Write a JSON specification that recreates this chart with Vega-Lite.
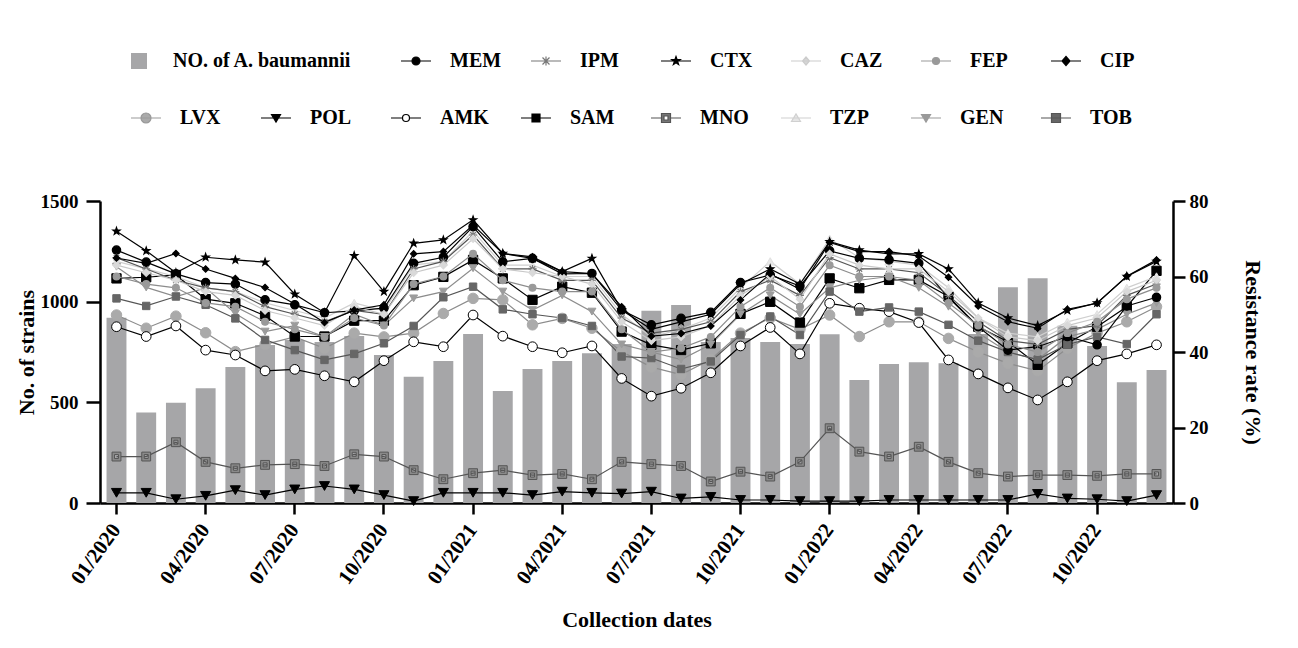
{
  "$schema": "https://vega.github.io/schema/vega-lite/v6.json",
  "width": 1073,
  "height": 302,
  "autosize": {"type": "none"},
  "padding": {"left": 100, "top": 201, "right": 125, "bottom": 145},
  "background": "white",
  "datasets": {
    "bars": [
      {"m": "01/2020", "n": 920}, {"m": "02/2020", "n": 450}, {"m": "03/2020", "n": 498}, {"m": "04/2020", "n": 570},
      {"m": "05/2020", "n": 675}, {"m": "06/2020", "n": 785}, {"m": "07/2020", "n": 810}, {"m": "08/2020", "n": 800},
      {"m": "09/2020", "n": 830}, {"m": "10/2020", "n": 735}, {"m": "11/2020", "n": 627}, {"m": "12/2020", "n": 705},
      {"m": "01/2021", "n": 840}, {"m": "02/2021", "n": 556}, {"m": "03/2021", "n": 666}, {"m": "04/2021", "n": 705},
      {"m": "05/2021", "n": 744}, {"m": "06/2021", "n": 790}, {"m": "07/2021", "n": 955}, {"m": "08/2021", "n": 983},
      {"m": "09/2021", "n": 800}, {"m": "10/2021", "n": 820}, {"m": "11/2021", "n": 800}, {"m": "12/2021", "n": 790},
      {"m": "01/2022", "n": 838}, {"m": "02/2022", "n": 611}, {"m": "03/2022", "n": 690}, {"m": "04/2022", "n": 699},
      {"m": "05/2022", "n": 694}, {"m": "06/2022", "n": 840}, {"m": "07/2022", "n": 1071}, {"m": "08/2022", "n": 1116},
      {"m": "09/2022", "n": 880}, {"m": "10/2022", "n": 780}, {"m": "11/2022", "n": 600}, {"m": "12/2022", "n": 661}
    ],
    "rates": [
      {"m":"01/2020","d":"MEM","v":67.0},{"m":"02/2020","d":"MEM","v":63.8},{"m":"03/2020","d":"MEM","v":60.7},{"m":"04/2020","d":"MEM","v":58.4},{"m":"05/2020","d":"MEM","v":58.0},{"m":"06/2020","d":"MEM","v":53.8},{"m":"07/2020","d":"MEM","v":52.5},{"m":"08/2020","d":"MEM","v":50.4},{"m":"09/2020","d":"MEM","v":50.9},{"m":"10/2020","d":"MEM","v":51.6},{"m":"11/2020","d":"MEM","v":63.5},{"m":"12/2020","d":"MEM","v":65.1},
      {"m":"01/2021","d":"MEM","v":73.2},{"m":"02/2021","d":"MEM","v":63.9},{"m":"03/2021","d":"MEM","v":64.8},{"m":"04/2021","d":"MEM","v":60.7},{"m":"05/2021","d":"MEM","v":60.8},{"m":"06/2021","d":"MEM","v":51.1},{"m":"07/2021","d":"MEM","v":47.2},{"m":"08/2021","d":"MEM","v":48.9},{"m":"09/2021","d":"MEM","v":50.5},{"m":"10/2021","d":"MEM","v":58.4},{"m":"11/2021","d":"MEM","v":60.4},{"m":"12/2021","d":"MEM","v":57.5},
      {"m":"01/2022","d":"MEM","v":66.8},{"m":"02/2022","d":"MEM","v":64.8},{"m":"03/2022","d":"MEM","v":64.4},{"m":"04/2022","d":"MEM","v":63.5},{"m":"05/2022","d":"MEM","v":54.4},{"m":"06/2022","d":"MEM","v":46.7},{"m":"07/2022","d":"MEM","v":40.5},{"m":"08/2022","d":"MEM","v":41.4},{"m":"09/2022","d":"MEM","v":44.1},{"m":"10/2022","d":"MEM","v":41.9},{"m":"11/2022","d":"MEM","v":52.2},{"m":"12/2022","d":"MEM","v":54.5},

      {"m":"01/2020","d":"IPM","v":65},{"m":"02/2020","d":"IPM","v":62},{"m":"03/2020","d":"IPM","v":59},{"m":"04/2020","d":"IPM","v":57},{"m":"05/2020","d":"IPM","v":56},{"m":"06/2020","d":"IPM","v":52},{"m":"07/2020","d":"IPM","v":50},{"m":"08/2020","d":"IPM","v":48},{"m":"09/2020","d":"IPM","v":51},{"m":"10/2020","d":"IPM","v":50},{"m":"11/2020","d":"IPM","v":62},{"m":"12/2020","d":"IPM","v":64},
      {"m":"01/2021","d":"IPM","v":71},{"m":"02/2021","d":"IPM","v":62},{"m":"03/2021","d":"IPM","v":62},{"m":"04/2021","d":"IPM","v":59},{"m":"05/2021","d":"IPM","v":59},{"m":"06/2021","d":"IPM","v":49},{"m":"07/2021","d":"IPM","v":45},{"m":"08/2021","d":"IPM","v":46},{"m":"09/2021","d":"IPM","v":48},{"m":"10/2021","d":"IPM","v":56},{"m":"11/2021","d":"IPM","v":59},{"m":"12/2021","d":"IPM","v":55},
      {"m":"01/2022","d":"IPM","v":65},{"m":"02/2022","d":"IPM","v":62},{"m":"03/2022","d":"IPM","v":62},{"m":"04/2022","d":"IPM","v":61},{"m":"05/2022","d":"IPM","v":55},{"m":"06/2022","d":"IPM","v":48},{"m":"07/2022","d":"IPM","v":43},{"m":"08/2022","d":"IPM","v":42},{"m":"09/2022","d":"IPM","v":46},{"m":"10/2022","d":"IPM","v":47},{"m":"11/2022","d":"IPM","v":55},{"m":"12/2022","d":"IPM","v":58},

      {"m":"01/2020","d":"CTX","v":72.0},{"m":"02/2020","d":"CTX","v":66.8},{"m":"03/2020","d":"CTX","v":61.0},{"m":"04/2020","d":"CTX","v":65.1},{"m":"05/2020","d":"CTX","v":64.4},{"m":"06/2020","d":"CTX","v":63.8},{"m":"07/2020","d":"CTX","v":55.3},{"m":"08/2020","d":"CTX","v":50.4},{"m":"09/2020","d":"CTX","v":65.5},{"m":"10/2020","d":"CTX","v":56.0},{"m":"11/2020","d":"CTX","v":68.8},{"m":"12/2020","d":"CTX","v":69.7},
      {"m":"01/2021","d":"CTX","v":75.0},{"m":"02/2021","d":"CTX","v":66.1},{"m":"03/2021","d":"CTX","v":64.8},{"m":"04/2021","d":"CTX","v":61.3},{"m":"05/2021","d":"CTX","v":64.8},{"m":"06/2021","d":"CTX","v":51.1},{"m":"07/2021","d":"CTX","v":46.0},{"m":"08/2021","d":"CTX","v":48.0},{"m":"09/2021","d":"CTX","v":50.0},{"m":"10/2021","d":"CTX","v":58.0},{"m":"11/2021","d":"CTX","v":62.0},{"m":"12/2021","d":"CTX","v":58.0},
      {"m":"01/2022","d":"CTX","v":69.2},{"m":"02/2022","d":"CTX","v":67.0},{"m":"03/2022","d":"CTX","v":66.0},{"m":"04/2022","d":"CTX","v":66.0},{"m":"05/2022","d":"CTX","v":62.0},{"m":"06/2022","d":"CTX","v":53.0},{"m":"07/2022","d":"CTX","v":49.0},{"m":"08/2022","d":"CTX","v":47.0},{"m":"09/2022","d":"CTX","v":51.0},{"m":"10/2022","d":"CTX","v":53.0},{"m":"11/2022","d":"CTX","v":60.0},{"m":"12/2022","d":"CTX","v":64.0},

      {"m":"01/2020","d":"CAZ","v":63},{"m":"02/2020","d":"CAZ","v":61},{"m":"03/2020","d":"CAZ","v":59},{"m":"04/2020","d":"CAZ","v":56},{"m":"05/2020","d":"CAZ","v":55},{"m":"06/2020","d":"CAZ","v":51},{"m":"07/2020","d":"CAZ","v":49},{"m":"08/2020","d":"CAZ","v":47},{"m":"09/2020","d":"CAZ","v":52},{"m":"10/2020","d":"CAZ","v":50},{"m":"11/2020","d":"CAZ","v":61},{"m":"12/2020","d":"CAZ","v":63},
      {"m":"01/2021","d":"CAZ","v":70},{"m":"02/2021","d":"CAZ","v":62},{"m":"03/2021","d":"CAZ","v":61},{"m":"04/2021","d":"CAZ","v":60},{"m":"05/2021","d":"CAZ","v":58},{"m":"06/2021","d":"CAZ","v":48},{"m":"07/2021","d":"CAZ","v":43},{"m":"08/2021","d":"CAZ","v":44},{"m":"09/2021","d":"CAZ","v":47},{"m":"10/2021","d":"CAZ","v":55},{"m":"11/2021","d":"CAZ","v":60},{"m":"12/2021","d":"CAZ","v":54},
      {"m":"01/2022","d":"CAZ","v":66},{"m":"02/2022","d":"CAZ","v":63},{"m":"03/2022","d":"CAZ","v":62},{"m":"04/2022","d":"CAZ","v":62},{"m":"05/2022","d":"CAZ","v":56},{"m":"06/2022","d":"CAZ","v":49},{"m":"07/2022","d":"CAZ","v":44},{"m":"08/2022","d":"CAZ","v":43},{"m":"09/2022","d":"CAZ","v":47},{"m":"10/2022","d":"CAZ","v":49},{"m":"11/2022","d":"CAZ","v":56},{"m":"12/2022","d":"CAZ","v":59},

      {"m":"01/2020","d":"FEP","v":60},{"m":"02/2020","d":"FEP","v":58},{"m":"03/2020","d":"FEP","v":57},{"m":"04/2020","d":"FEP","v":53},{"m":"05/2020","d":"FEP","v":52},{"m":"06/2020","d":"FEP","v":48},{"m":"07/2020","d":"FEP","v":46},{"m":"08/2020","d":"FEP","v":44},{"m":"09/2020","d":"FEP","v":49},{"m":"10/2020","d":"FEP","v":47},{"m":"11/2020","d":"FEP","v":58},{"m":"12/2020","d":"FEP","v":60},
      {"m":"01/2021","d":"FEP","v":66},{"m":"02/2021","d":"FEP","v":59},{"m":"03/2021","d":"FEP","v":57},{"m":"04/2021","d":"FEP","v":56},{"m":"05/2021","d":"FEP","v":56},{"m":"06/2021","d":"FEP","v":46},{"m":"07/2021","d":"FEP","v":40},{"m":"08/2021","d":"FEP","v":41},{"m":"09/2021","d":"FEP","v":44},{"m":"10/2021","d":"FEP","v":52},{"m":"11/2021","d":"FEP","v":57},{"m":"12/2021","d":"FEP","v":52},
      {"m":"01/2022","d":"FEP","v":63},{"m":"02/2022","d":"FEP","v":60},{"m":"03/2022","d":"FEP","v":60},{"m":"04/2022","d":"FEP","v":59},{"m":"05/2022","d":"FEP","v":53},{"m":"06/2022","d":"FEP","v":47},{"m":"07/2022","d":"FEP","v":42},{"m":"08/2022","d":"FEP","v":40},{"m":"09/2022","d":"FEP","v":45},{"m":"10/2022","d":"FEP","v":48},{"m":"11/2022","d":"FEP","v":54},{"m":"12/2022","d":"FEP","v":57},

      {"m":"01/2020","d":"CIP","v":64.9},{"m":"02/2020","d":"CIP","v":63.5},{"m":"03/2020","d":"CIP","v":66.1},{"m":"04/2020","d":"CIP","v":62.0},{"m":"05/2020","d":"CIP","v":59.5},{"m":"06/2020","d":"CIP","v":57.1},{"m":"07/2020","d":"CIP","v":52.7},{"m":"08/2020","d":"CIP","v":47.8},{"m":"09/2020","d":"CIP","v":51.1},{"m":"10/2020","d":"CIP","v":52.5},{"m":"11/2020","d":"CIP","v":66.0},{"m":"12/2020","d":"CIP","v":66.6},
      {"m":"01/2021","d":"CIP","v":73.6},{"m":"02/2021","d":"CIP","v":66.1},{"m":"03/2021","d":"CIP","v":65.2},{"m":"04/2021","d":"CIP","v":61.3},{"m":"05/2021","d":"CIP","v":60.8},{"m":"06/2021","d":"CIP","v":52.0},{"m":"07/2021","d":"CIP","v":44.2},{"m":"08/2021","d":"CIP","v":44.9},{"m":"09/2021","d":"CIP","v":46.9},{"m":"10/2021","d":"CIP","v":53.8},{"m":"11/2021","d":"CIP","v":60.7},{"m":"12/2021","d":"CIP","v":56.6},
      {"m":"01/2022","d":"CIP","v":69.0},{"m":"02/2022","d":"CIP","v":66.6},{"m":"03/2022","d":"CIP","v":66.6},{"m":"04/2022","d":"CIP","v":65.4},{"m":"05/2022","d":"CIP","v":59.8},{"m":"06/2022","d":"CIP","v":52.2},{"m":"07/2022","d":"CIP","v":48.0},{"m":"08/2022","d":"CIP","v":46.3},{"m":"09/2022","d":"CIP","v":51.3},{"m":"10/2022","d":"CIP","v":52.9},{"m":"11/2022","d":"CIP","v":60.1},{"m":"12/2022","d":"CIP","v":64.4},

      {"m":"01/2020","d":"LVX","v":49.8},{"m":"02/2020","d":"LVX","v":46.3},{"m":"03/2020","d":"LVX","v":49.5},{"m":"04/2020","d":"LVX","v":45.1},{"m":"05/2020","d":"LVX","v":40.1},{"m":"06/2020","d":"LVX","v":42.0},{"m":"07/2020","d":"LVX","v":44.0},{"m":"08/2020","d":"LVX","v":41.0},{"m":"09/2020","d":"LVX","v":45.0},{"m":"10/2020","d":"LVX","v":44.0},{"m":"11/2020","d":"LVX","v":45.0},{"m":"12/2020","d":"LVX","v":50.2},
      {"m":"01/2021","d":"LVX","v":54.2},{"m":"02/2021","d":"LVX","v":53.8},{"m":"03/2021","d":"LVX","v":47.2},{"m":"04/2021","d":"LVX","v":48.9},{"m":"05/2021","d":"LVX","v":46.3},{"m":"06/2021","d":"LVX","v":40.1},{"m":"07/2021","d":"LVX","v":36.0},{"m":"08/2021","d":"LVX","v":34.0},{"m":"09/2021","d":"LVX","v":38.0},{"m":"10/2021","d":"LVX","v":45.0},{"m":"11/2021","d":"LVX","v":49.0},{"m":"12/2021","d":"LVX","v":46.0},
      {"m":"01/2022","d":"LVX","v":49.8},{"m":"02/2022","d":"LVX","v":44.1},{"m":"03/2022","d":"LVX","v":48.0},{"m":"04/2022","d":"LVX","v":48.0},{"m":"05/2022","d":"LVX","v":43.6},{"m":"06/2022","d":"LVX","v":40.0},{"m":"07/2022","d":"LVX","v":37.0},{"m":"08/2022","d":"LVX","v":35.0},{"m":"09/2022","d":"LVX","v":41.0},{"m":"10/2022","d":"LVX","v":45.0},{"m":"11/2022","d":"LVX","v":48.0},{"m":"12/2022","d":"LVX","v":52.0},

      {"m":"01/2020","d":"POL","v":2.7},{"m":"02/2020","d":"POL","v":2.7},{"m":"03/2020","d":"POL","v":1.0},{"m":"04/2020","d":"POL","v":1.9},{"m":"05/2020","d":"POL","v":3.4},{"m":"06/2020","d":"POL","v":2.1},{"m":"07/2020","d":"POL","v":3.6},{"m":"08/2020","d":"POL","v":4.5},{"m":"09/2020","d":"POL","v":3.6},{"m":"10/2020","d":"POL","v":2.1},{"m":"11/2020","d":"POL","v":0.5},{"m":"12/2020","d":"POL","v":2.7},
      {"m":"01/2021","d":"POL","v":2.7},{"m":"02/2021","d":"POL","v":2.7},{"m":"03/2021","d":"POL","v":2.1},{"m":"04/2021","d":"POL","v":3.0},{"m":"05/2021","d":"POL","v":2.7},{"m":"06/2021","d":"POL","v":2.5},{"m":"07/2021","d":"POL","v":3.0},{"m":"08/2021","d":"POL","v":1.2},{"m":"09/2021","d":"POL","v":1.6},{"m":"10/2021","d":"POL","v":0.8},{"m":"11/2021","d":"POL","v":0.8},{"m":"12/2021","d":"POL","v":0.5},
      {"m":"01/2022","d":"POL","v":0.5},{"m":"02/2022","d":"POL","v":0.5},{"m":"03/2022","d":"POL","v":0.8},{"m":"04/2022","d":"POL","v":0.8},{"m":"05/2022","d":"POL","v":0.8},{"m":"06/2022","d":"POL","v":0.8},{"m":"07/2022","d":"POL","v":0.8},{"m":"08/2022","d":"POL","v":2.4},{"m":"09/2022","d":"POL","v":1.2},{"m":"10/2022","d":"POL","v":1.0},{"m":"11/2022","d":"POL","v":0.5},{"m":"12/2022","d":"POL","v":2.1},

      {"m":"01/2020","d":"AMK","v":46.7},{"m":"02/2020","d":"AMK","v":44.1},{"m":"03/2020","d":"AMK","v":46.9},{"m":"04/2020","d":"AMK","v":40.5},{"m":"05/2020","d":"AMK","v":39.2},{"m":"06/2020","d":"AMK","v":35.0},{"m":"07/2020","d":"AMK","v":35.4},{"m":"08/2020","d":"AMK","v":33.7},{"m":"09/2020","d":"AMK","v":32.1},{"m":"10/2020","d":"AMK","v":37.7},{"m":"11/2020","d":"AMK","v":42.7},{"m":"12/2020","d":"AMK","v":41.4},
      {"m":"01/2021","d":"AMK","v":49.8},{"m":"02/2021","d":"AMK","v":44.2},{"m":"03/2021","d":"AMK","v":41.4},{"m":"04/2021","d":"AMK","v":39.8},{"m":"05/2021","d":"AMK","v":41.6},{"m":"06/2021","d":"AMK","v":33.0},{"m":"07/2021","d":"AMK","v":28.3},{"m":"08/2021","d":"AMK","v":30.4},{"m":"09/2021","d":"AMK","v":34.5},{"m":"10/2021","d":"AMK","v":41.6},{"m":"11/2021","d":"AMK","v":46.5},{"m":"12/2021","d":"AMK","v":39.5},
      {"m":"01/2022","d":"AMK","v":52.9},{"m":"02/2022","d":"AMK","v":51.6},{"m":"03/2022","d":"AMK","v":50.7},{"m":"04/2022","d":"AMK","v":47.8},{"m":"05/2022","d":"AMK","v":37.9},{"m":"06/2022","d":"AMK","v":34.2},{"m":"07/2022","d":"AMK","v":30.5},{"m":"08/2022","d":"AMK","v":27.3},{"m":"09/2022","d":"AMK","v":32.1},{"m":"10/2022","d":"AMK","v":37.7},{"m":"11/2022","d":"AMK","v":39.5},{"m":"12/2022","d":"AMK","v":41.9},

      {"m":"01/2020","d":"SAM","v":59.5},{"m":"02/2020","d":"SAM","v":59.8},{"m":"03/2020","d":"SAM","v":60.4},{"m":"04/2020","d":"SAM","v":54.0},{"m":"05/2020","d":"SAM","v":52.9},{"m":"06/2020","d":"SAM","v":49.6},{"m":"07/2020","d":"SAM","v":44.1},{"m":"08/2020","d":"SAM","v":44.1},{"m":"09/2020","d":"SAM","v":48.3},{"m":"10/2020","d":"SAM","v":48.3},{"m":"11/2020","d":"SAM","v":57.7},{"m":"12/2020","d":"SAM","v":59.9},
      {"m":"01/2021","d":"SAM","v":64.4},{"m":"02/2021","d":"SAM","v":59.5},{"m":"03/2021","d":"SAM","v":53.8},{"m":"04/2021","d":"SAM","v":57.3},{"m":"05/2021","d":"SAM","v":55.7},{"m":"06/2021","d":"SAM","v":45.4},{"m":"07/2021","d":"SAM","v":41.9},{"m":"08/2021","d":"SAM","v":40.5},{"m":"09/2021","d":"SAM","v":42.3},{"m":"10/2021","d":"SAM","v":50.1},{"m":"11/2021","d":"SAM","v":53.3},{"m":"12/2021","d":"SAM","v":47.8},
      {"m":"01/2022","d":"SAM","v":59.5},{"m":"02/2022","d":"SAM","v":56.9},{"m":"03/2022","d":"SAM","v":59.1},{"m":"04/2022","d":"SAM","v":59.1},{"m":"05/2022","d":"SAM","v":54.7},{"m":"06/2022","d":"SAM","v":46.7},{"m":"07/2022","d":"SAM","v":42.7},{"m":"08/2022","d":"SAM","v":36.6},{"m":"09/2022","d":"SAM","v":42.3},{"m":"10/2022","d":"SAM","v":46.7},{"m":"11/2022","d":"SAM","v":52.0},{"m":"12/2022","d":"SAM","v":61.5},

      {"m":"01/2020","d":"MNO","v":12.3},{"m":"02/2020","d":"MNO","v":12.3},{"m":"03/2020","d":"MNO","v":16.1},{"m":"04/2020","d":"MNO","v":10.9},{"m":"05/2020","d":"MNO","v":9.2},{"m":"06/2020","d":"MNO","v":10.1},{"m":"07/2020","d":"MNO","v":10.3},{"m":"08/2020","d":"MNO","v":9.8},{"m":"09/2020","d":"MNO","v":12.9},{"m":"10/2020","d":"MNO","v":12.3},{"m":"11/2020","d":"MNO","v":8.7},{"m":"12/2020","d":"MNO","v":6.3},
      {"m":"01/2021","d":"MNO","v":7.9},{"m":"02/2021","d":"MNO","v":8.7},{"m":"03/2021","d":"MNO","v":7.4},{"m":"04/2021","d":"MNO","v":7.7},{"m":"05/2021","d":"MNO","v":6.3},{"m":"06/2021","d":"MNO","v":10.9},{"m":"07/2021","d":"MNO","v":10.3},{"m":"08/2021","d":"MNO","v":9.8},{"m":"09/2021","d":"MNO","v":5.7},{"m":"10/2021","d":"MNO","v":8.3},{"m":"11/2021","d":"MNO","v":7.0},{"m":"12/2021","d":"MNO","v":10.9},
      {"m":"01/2022","d":"MNO","v":19.8},{"m":"02/2022","d":"MNO","v":13.6},{"m":"03/2022","d":"MNO","v":12.3},{"m":"04/2022","d":"MNO","v":14.9},{"m":"05/2022","d":"MNO","v":10.9},{"m":"06/2022","d":"MNO","v":7.9},{"m":"07/2022","d":"MNO","v":7.0},{"m":"08/2022","d":"MNO","v":7.4},{"m":"09/2022","d":"MNO","v":7.4},{"m":"10/2022","d":"MNO","v":7.2},{"m":"11/2022","d":"MNO","v":7.7},{"m":"12/2022","d":"MNO","v":7.7},

      {"m":"01/2020","d":"TZP","v":64},{"m":"02/2020","d":"TZP","v":62},{"m":"03/2020","d":"TZP","v":60},{"m":"04/2020","d":"TZP","v":57},{"m":"05/2020","d":"TZP","v":56},{"m":"06/2020","d":"TZP","v":53},{"m":"07/2020","d":"TZP","v":51},{"m":"08/2020","d":"TZP","v":49},{"m":"09/2020","d":"TZP","v":53},{"m":"10/2020","d":"TZP","v":51},{"m":"11/2020","d":"TZP","v":63},{"m":"12/2020","d":"TZP","v":64},
      {"m":"01/2021","d":"TZP","v":72},{"m":"02/2021","d":"TZP","v":63},{"m":"03/2021","d":"TZP","v":63},{"m":"04/2021","d":"TZP","v":60},{"m":"05/2021","d":"TZP","v":60},{"m":"06/2021","d":"TZP","v":50},{"m":"07/2021","d":"TZP","v":44},{"m":"08/2021","d":"TZP","v":46},{"m":"09/2021","d":"TZP","v":49},{"m":"10/2021","d":"TZP","v":57},{"m":"11/2021","d":"TZP","v":64},{"m":"12/2021","d":"TZP","v":58},
      {"m":"01/2022","d":"TZP","v":70},{"m":"02/2022","d":"TZP","v":65},{"m":"03/2022","d":"TZP","v":64},{"m":"04/2022","d":"TZP","v":63},{"m":"05/2022","d":"TZP","v":57},{"m":"06/2022","d":"TZP","v":49},{"m":"07/2022","d":"TZP","v":45},{"m":"08/2022","d":"TZP","v":44},{"m":"09/2022","d":"TZP","v":48},{"m":"10/2022","d":"TZP","v":50},{"m":"11/2022","d":"TZP","v":57},{"m":"12/2022","d":"TZP","v":60},

      {"m":"01/2020","d":"GEN","v":62.6},{"m":"02/2020","d":"GEN","v":57.1},{"m":"03/2020","d":"GEN","v":54.7},{"m":"04/2020","d":"GEN","v":57.0},{"m":"05/2020","d":"GEN","v":50.2},{"m":"06/2020","d":"GEN","v":45.4},{"m":"07/2020","d":"GEN","v":47.0},{"m":"08/2020","d":"GEN","v":44.0},{"m":"09/2020","d":"GEN","v":50.0},{"m":"10/2020","d":"GEN","v":47.0},{"m":"11/2020","d":"GEN","v":54.2},{"m":"12/2020","d":"GEN","v":56.0},
      {"m":"01/2021","d":"GEN","v":62.2},{"m":"02/2021","d":"GEN","v":56.0},{"m":"03/2021","d":"GEN","v":51.1},{"m":"04/2021","d":"GEN","v":55.0},{"m":"05/2021","d":"GEN","v":50.7},{"m":"06/2021","d":"GEN","v":42.0},{"m":"07/2021","d":"GEN","v":40.0},{"m":"08/2021","d":"GEN","v":38.0},{"m":"09/2021","d":"GEN","v":42.0},{"m":"10/2021","d":"GEN","v":50.0},{"m":"11/2021","d":"GEN","v":55.0},{"m":"12/2021","d":"GEN","v":50.0},
      {"m":"01/2022","d":"GEN","v":57.0},{"m":"02/2022","d":"GEN","v":59.0},{"m":"03/2022","d":"GEN","v":60.0},{"m":"04/2022","d":"GEN","v":57.0},{"m":"05/2022","d":"GEN","v":52.0},{"m":"06/2022","d":"GEN","v":45.0},{"m":"07/2022","d":"GEN","v":40.0},{"m":"08/2022","d":"GEN","v":38.0},{"m":"09/2022","d":"GEN","v":44.0},{"m":"10/2022","d":"GEN","v":46.0},{"m":"11/2022","d":"GEN","v":50.0},{"m":"12/2022","d":"GEN","v":53.0},

      {"m":"01/2020","d":"TOB","v":54.2},{"m":"02/2020","d":"TOB","v":52.2},{"m":"03/2020","d":"TOB","v":54.7},{"m":"04/2020","d":"TOB","v":52.5},{"m":"05/2020","d":"TOB","v":48.9},{"m":"06/2020","d":"TOB","v":43.2},{"m":"07/2020","d":"TOB","v":40.5},{"m":"08/2020","d":"TOB","v":37.9},{"m":"09/2020","d":"TOB","v":39.5},{"m":"10/2020","d":"TOB","v":42.3},{"m":"11/2020","d":"TOB","v":46.9},{"m":"12/2020","d":"TOB","v":54.5},
      {"m":"01/2021","d":"TOB","v":57.3},{"m":"02/2021","d":"TOB","v":51.3},{"m":"03/2021","d":"TOB","v":50.0},{"m":"04/2021","d":"TOB","v":49.0},{"m":"05/2021","d":"TOB","v":46.9},{"m":"06/2021","d":"TOB","v":38.8},{"m":"07/2021","d":"TOB","v":38.4},{"m":"08/2021","d":"TOB","v":35.5},{"m":"09/2021","d":"TOB","v":37.5},{"m":"10/2021","d":"TOB","v":44.5},{"m":"11/2021","d":"TOB","v":49.4},{"m":"12/2021","d":"TOB","v":44.5},
      {"m":"01/2022","d":"TOB","v":56.0},{"m":"02/2022","d":"TOB","v":50.7},{"m":"03/2022","d":"TOB","v":51.8},{"m":"04/2022","d":"TOB","v":50.7},{"m":"05/2022","d":"TOB","v":47.2},{"m":"06/2022","d":"TOB","v":43.0},{"m":"07/2022","d":"TOB","v":40.0},{"m":"08/2022","d":"TOB","v":38.0},{"m":"09/2022","d":"TOB","v":42.0},{"m":"10/2022","d":"TOB","v":44.0},{"m":"11/2022","d":"TOB","v":42.1},{"m":"12/2022","d":"TOB","v":50.0}
    ]
  },
  "encoding": {
    "x": {
      "field": "m",
      "type": "ordinal",
      "scale": {
        "domain": ["01/2020","02/2020","03/2020","04/2020","05/2020","06/2020","07/2020","08/2020","09/2020","10/2020","11/2020","12/2020","01/2021","02/2021","03/2021","04/2021","05/2021","06/2021","07/2021","08/2021","09/2021","10/2021","11/2021","12/2021","01/2022","02/2022","03/2022","04/2022","05/2022","06/2022","07/2022","08/2022","09/2022","10/2022","11/2022","12/2022"],
        "paddingInner": 0.33,
        "paddingOuter": 0.22
      },
      "axis": {
        "title": "Collection dates",
        "values": ["01/2020","04/2020","07/2020","10/2020","01/2021","04/2021","07/2021","10/2021","01/2022","04/2022","07/2022","10/2022"],
        "labelAngle": -54,
        "labelAlign": "right",
        "labelBaseline": "middle",
        "labelFontSize": 21,
        "tickSize": 11,
        "labelPadding": 12,
        "titlePadding": 22
      }
    }
  },
  "layer": [
    {
      "data": {"name": "bars"},
      "mark": {"type": "bar"},
      "encoding": {
        "y": {
          "field": "n",
          "type": "quantitative",
          "scale": {"domain": [0, 1500]},
          "axis": {"title": "No. of strains", "orient": "left", "values": [0, 500, 1000, 1500], "format": "d", "tickSize": 14, "labelPadding": 8, "titlePadding": 2}
        },
        "color": {
          "datum": "NO. of A. baumannii",
          "scale": {"range": ["#a6a6a8"]},
          "legend": {
            "orient": "none", "legendX": 29, "legendY": -150, "title": null,
            "symbolType": "square", "symbolSize": 256, "symbolStrokeWidth": 0, "labelOffset": 24
          }
        }
      }
    },
    {
      "data": {"name": "rates"},
      "encoding": {
        "y": {
          "field": "v",
          "type": "quantitative",
          "scale": {"domain": [0, 80]},
          "axis": {"title": "Resistance rate (%)", "orient": "right", "values": [0, 20, 40, 60, 80], "tickSize": 12, "labelPadding": 4, "titlePadding": 32}
        }
      },
      "layer": [
        {
          "transform": [{"filter": {"field": "d", "oneOf": ["LVX","POL","AMK","SAM","MNO","TZP","GEN","TOB"]}}],
          "layer": [
            {
              "mark": {"type": "line", "strokeWidth": 1.2},
              "encoding": {
                "detail": {"field": "d"},
                "color": {
                  "field": "d", "type": "nominal", "legend": null,
                  "scale": {"domain": ["LVX","POL","AMK","SAM","MNO","TZP","GEN","TOB"], "range": ["#8c8c8c","#000000","#000000","#000000","#555555","#cfcfcf","#8c8c8c","#555555"]}
                }
              }
            },
            {
              "mark": {"type": "point", "filled": true, "strokeWidth": 1, "opacity": 1},
              "encoding": {
                "shape": {
                  "field": "d", "type": "nominal", "legend": null,
                  "scale": {"domain": ["LVX","POL","AMK","SAM","MNO","TZP","GEN","TOB"], "range": ["circle","triangle-down","circle","square","M-1,-1H1V1H-1ZM-0.45,-0.45V0.45H0.45V-0.45Z","triangle-up","triangle-down","square"]}
                },
                "fill": {
                  "field": "d", "type": "nominal", "legend": null,
                  "scale": {"domain": ["LVX","POL","AMK","SAM","MNO","TZP","GEN","TOB"], "range": ["#aaaaaa","#000000","#ffffff","#000000","#8a8a8a","#e8e8e8","#9c9c9c","#666666"]}
                },
                "stroke": {
                  "field": "d", "type": "nominal", "legend": null,
                  "scale": {"domain": ["LVX","POL","AMK","SAM","MNO","TZP","GEN","TOB"], "range": ["#aaaaaa","#000000","#000000","#000000","#555555","#e0e0e0","#9c9c9c","#666666"]}
                },
                "size": {
                  "field": "d", "type": "nominal", "legend": null,
                  "scale": {"domain": ["LVX","POL","AMK","SAM","MNO","TZP","GEN","TOB"], "range": [110, 55, 60, 70, 70, 70, 70, 90]}
                }
              }
            },
            {
              "mark": {"type": "point", "filled": true, "opacity": 0},
              "encoding": {
                "shape": {
                  "field": "d", "type": "nominal",
                  "scale": {"domain": ["LVX","POL","AMK","SAM","MNO","TZP","GEN","TOB"], "range": ["M-1.5,0L1.5,0M0.5,0A0.5,0.5 0 1 1 -0.5,0A0.5,0.5 0 1 1 0.5,0Z","M-1.5,0L1.5,0M-0.45,-0.35L0.45,-0.35L0,0.4Z","M-1.5,0L-0.35,0M0.35,0L1.5,0M0.35,0A0.35,0.35 0 1 1 -0.35,0A0.35,0.35 0 1 1 0.35,0Z","M-1.5,0L1.5,0M-0.4,-0.4L0.4,-0.4L0.4,0.4L-0.4,0.4Z","M-1.5,0L-0.45,0M0.45,0L1.5,0M-0.45,-0.45L0.45,-0.45L0.45,0.45L-0.45,0.45ZM-0.2,-0.2L-0.2,0.2L0.2,0.2L0.2,-0.2Z","M-1.5,0L1.5,0M-0.45,0.35L0.45,0.35L0,-0.4Z","M-1.5,0L1.5,0M-0.45,-0.35L0.45,-0.35L0,0.4Z","M-1.5,0L1.5,0M-0.45,-0.45L0.45,-0.45L0.45,0.45L-0.45,0.45Z"]},
                  "legend": {"orient": "none", "legendX": 35, "legendY": -94, "title": null, "direction": "horizontal", "columns": 8, "gridAlign": "all", "columnPadding": 29, "symbolSize": 400, "labelOffset": 23, "symbolOpacity": 1, "symbolStrokeWidth": 1.2}
                },
                "fill": {
                  "field": "d", "type": "nominal",
                  "scale": {"domain": ["LVX","POL","AMK","SAM","MNO","TZP","GEN","TOB"], "range": ["#aaaaaa","#000000","#ffffff","#000000","#777777","#e6e6e6","#999999","#666666"]},
                  "legend": {"orient": "none", "legendX": 35, "legendY": -94, "title": null, "direction": "horizontal", "columns": 8, "gridAlign": "all", "columnPadding": 29, "symbolSize": 400, "labelOffset": 23, "symbolOpacity": 1, "symbolStrokeWidth": 1.2}
                },
                "stroke": {
                  "field": "d", "type": "nominal",
                  "scale": {"domain": ["LVX","POL","AMK","SAM","MNO","TZP","GEN","TOB"], "range": ["#999999","#000000","#000000","#000000","#555555","#d0d0d0","#999999","#555555"]},
                  "legend": {"orient": "none", "legendX": 35, "legendY": -94, "title": null, "direction": "horizontal", "columns": 8, "gridAlign": "all", "columnPadding": 29, "symbolSize": 400, "labelOffset": 23, "symbolOpacity": 1, "symbolStrokeWidth": 1.2}
                }
              }
            }
          ],
          "resolve": {"scale": {"shape": "independent", "fill": "independent", "stroke": "independent"}}
        },
        {
          "transform": [{"filter": {"field": "d", "oneOf": ["MEM","IPM","CTX","CAZ","FEP","CIP"]}}],
          "layer": [
            {
              "mark": {"type": "line", "strokeWidth": 1.2},
              "encoding": {
                "detail": {"field": "d"},
                "color": {
                  "field": "d", "type": "nominal", "legend": null,
                  "scale": {"domain": ["MEM","IPM","CTX","CAZ","FEP","CIP"], "range": ["#000000","#555555","#000000","#c8c8c8","#8c8c8c","#000000"]}
                }
              }
            },
            {
              "mark": {"type": "point", "filled": true, "strokeWidth": 1.2, "opacity": 1},
              "encoding": {
                "shape": {
                  "field": "d", "type": "nominal", "legend": null,
                  "scale": {"domain": ["MEM","IPM","CTX","CAZ","FEP","CIP"], "range": ["circle","M-1,0H1M0,-1V1M-0.7,-0.7L0.7,0.7M-0.7,0.7L0.7,-0.7","M0,-1L0.235,-0.324L0.951,-0.309L0.38,0.124L0.588,0.809L0,0.4L-0.588,0.809L-0.38,0.124L-0.951,-0.309L-0.235,-0.324Z","diamond","circle","diamond"]}
                },
                "fill": {
                  "field": "d", "type": "nominal", "legend": null,
                  "scale": {"domain": ["MEM","IPM","CTX","CAZ","FEP","CIP"], "range": ["#000000","#777777","#000000","#d9d9d9","#9a9a9a","#000000"]}
                },
                "stroke": {
                  "field": "d", "type": "nominal", "legend": null,
                  "scale": {"domain": ["MEM","IPM","CTX","CAZ","FEP","CIP"], "range": ["#000000","#777777","#000000","#d9d9d9","#9a9a9a","#000000"]}
                },
                "size": {
                  "field": "d", "type": "nominal", "legend": null,
                  "scale": {"domain": ["MEM","IPM","CTX","CAZ","FEP","CIP"], "range": [70, 40, 70, 45, 45, 55]}
                }
              }
            },
            {
              "mark": {"type": "point", "filled": true, "opacity": 0},
              "encoding": {
                "shape": {
                  "field": "d", "type": "nominal",
                  "scale": {"domain": ["MEM","IPM","CTX","CAZ","FEP","CIP"], "range": ["M-1.5,0L1.5,0M0.4,0A0.4,0.4 0 1 1 -0.4,0A0.4,0.4 0 1 1 0.4,0Z","M-1.5,0L1.5,0M-0.35,-0.35L0.35,0.35M-0.35,0.35L0.35,-0.35M0,-0.45L0,0.45","M-1.5,0L1.5,0M0,-0.45L0.106,-0.146L0.428,-0.139L0.171,0.056L0.265,0.364L0,0.18L-0.265,0.364L-0.171,0.056L-0.428,-0.139L-0.106,-0.146Z","M-1.5,0L1.5,0M0,-0.4L0.35,0L0,0.4L-0.35,0Z","M-1.5,0L1.5,0M0.35,0A0.35,0.35 0 1 1 -0.35,0A0.35,0.35 0 1 1 0.35,0Z","M-1.5,0L1.5,0M0,-0.45L0.4,0L0,0.45L-0.4,0Z"]},
                  "legend": {"orient": "none", "legendX": 305, "legendY": -151, "title": null, "direction": "horizontal", "columns": 6, "gridAlign": "all", "columnPadding": 26, "symbolSize": 400, "labelOffset": 23, "symbolOpacity": 1, "symbolStrokeWidth": 1.2}
                },
                "fill": {
                  "field": "d", "type": "nominal",
                  "scale": {"domain": ["MEM","IPM","CTX","CAZ","FEP","CIP"], "range": ["#000000","#777777","#000000","#d6d6d6","#999999","#000000"]},
                  "legend": {"orient": "none", "legendX": 305, "legendY": -151, "title": null, "direction": "horizontal", "columns": 6, "gridAlign": "all", "columnPadding": 26, "symbolSize": 400, "labelOffset": 23, "symbolOpacity": 1, "symbolStrokeWidth": 1.2}
                },
                "stroke": {
                  "field": "d", "type": "nominal",
                  "scale": {"domain": ["MEM","IPM","CTX","CAZ","FEP","CIP"], "range": ["#000000","#777777","#000000","#cccccc","#999999","#000000"]},
                  "legend": {"orient": "none", "legendX": 305, "legendY": -151, "title": null, "direction": "horizontal", "columns": 6, "gridAlign": "all", "columnPadding": 26, "symbolSize": 400, "labelOffset": 23, "symbolOpacity": 1, "symbolStrokeWidth": 1.2}
                }
              }
            }
          ],
          "resolve": {"scale": {"shape": "independent", "fill": "independent", "stroke": "independent"}}
        }
      ],
      "resolve": {"scale": {"color": "independent", "shape": "independent", "fill": "independent", "stroke": "independent", "size": "independent"}}
    }
  ],
  "resolve": {"scale": {"y": "independent", "color": "independent"}},
  "config": {
    "view": {"stroke": null},
    "font": "Liberation Serif",
    "axis": {
      "grid": false,
      "domainColor": "#000000",
      "domainWidth": 2.5,
      "tickColor": "#000000",
      "tickWidth": 2.5,
      "labelFont": "Liberation Serif",
      "labelFontWeight": "bold",
      "labelFontSize": 19,
      "labelColor": "#000000",
      "titleFont": "Liberation Serif",
      "titleFontWeight": "bold",
      "titleFontSize": 22,
      "titleColor": "#000000"
    },
    "legend": {
      "labelFont": "Liberation Serif",
      "labelFontWeight": "bold",
      "labelFontSize": 20,
      "labelColor": "#000000",
      "labelLimit": 400,
      "padding": 0
    }
  }
}
